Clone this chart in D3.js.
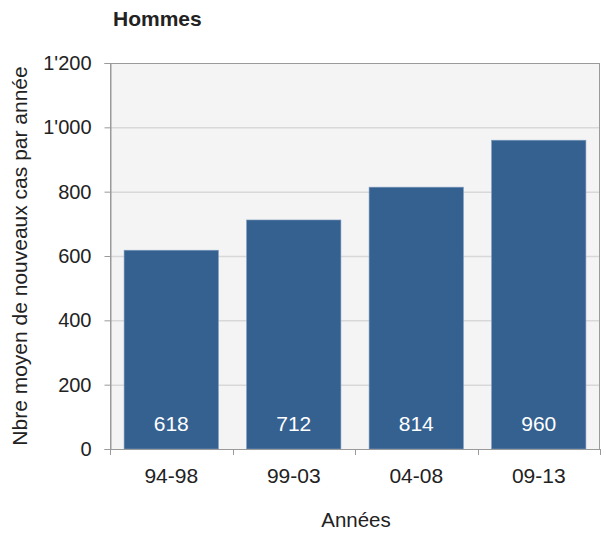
<!DOCTYPE html>
<meta charset="utf-8">
<title>Hommes</title>
<style>
body { margin: 0; background: #fff; }
text { font-family: "Liberation Sans", Arial, sans-serif; fill: #222; }
</style>
<script src="https://d3js.org/d3.v7.min.js"></script>
<body>
<script>
var width = 606, height = 533;
var margin = {top: 63, right: 6, bottom: 84, left: 110};

var periods = ["94-98", "99-03", "04-08", "09-13"];
var cases = [618, 712, 814, 960];
var yTicks = [0, 200, 400, 600, 800, 1000, 1200];

var svg = d3.select("body").append("svg")
    .attr("width", width)
    .attr("height", height);

var x = d3.scaleBand()
    .domain(periods)
    .range([margin.left, width - margin.right])
    .paddingInner(0.23)
    .paddingOuter(0.115);

var y = d3.scaleLinear()
    .domain([0, 1200])
    .range([height - margin.bottom, margin.top]);

var fmt = function(d) { return d3.format(",")(d).replace(",", "'"); };

// plot background
svg.append("rect")
    .attr("x", margin.left)
    .attr("y", margin.top)
    .attr("width", width - margin.right - margin.left)
    .attr("height", y(0) - margin.top)
    .attr("fill", "#f4f4f4");

// grid lines
svg.append("g").selectAll("line")
    .data(yTicks.slice(1, -1))
  .enter().append("line")
    .attr("x1", margin.left)
    .attr("x2", width - margin.right)
    .attr("y1", function(d) { return y(d) + 0.5; })
    .attr("y2", function(d) { return y(d) + 0.5; })
    .attr("stroke", "#d8d8d8")
    .attr("stroke-width", 1.5);

// bars
svg.append("g").selectAll("rect")
    .data(cases)
  .enter().append("rect")
    .attr("x", function(d, i) { return x(periods[i]); })
    .attr("y", function(d) { return y(d); })
    .attr("width", x.bandwidth())
    .attr("height", function(d) { return y(0) - y(d); })
    .attr("fill", "#356191")
    .attr("stroke", "#7f9cc0")
    .attr("stroke-width", 0.6);

// value labels
svg.append("g").selectAll("text")
    .data(cases)
  .enter().append("text")
    .attr("x", function(d, i) { return x(periods[i]) + x.bandwidth() / 2; })
    .attr("y", y(0) - 18)
    .attr("text-anchor", "middle")
    .style("fill", "#fff")
    .style("font-size", "21px")
    .text(function(d) { return d; });

// frame
svg.append("rect")
    .attr("x", margin.left + 0.5)
    .attr("y", margin.top + 0.5)
    .attr("width", width - margin.right - margin.left - 1)
    .attr("height", y(0) - margin.top)
    .attr("fill", "none")
    .attr("stroke", "#9a9a9a")
    .attr("stroke-width", 1);

// y axis
var yAxis = svg.append("g")
    .attr("transform", "translate(" + (margin.left + 0.5) + ",0)")
    .call(d3.axisLeft(y).tickValues(yTicks).tickFormat(fmt).tickSize(6).tickPadding(13));
yAxis.select(".domain").attr("stroke", "#9a9a9a");
yAxis.selectAll(".tick line").attr("stroke", "#9a9a9a");
yAxis.selectAll("text").style("font-size", "20px").style("fill", "#222").attr("font-family", null);

// x axis ticks at band boundaries
var bounds = periods.map(function(p) { return x(p) - x.step() * x.paddingInner() / 2; });
bounds.push(width - margin.right);
svg.append("g").selectAll("line")
    .data(bounds)
  .enter().append("line")
    .attr("x1", function(d) { return Math.round(d) + 0.5; })
    .attr("x2", function(d) { return Math.round(d) + 0.5; })
    .attr("y1", y(0))
    .attr("y2", y(0) + 6)
    .attr("stroke", "#9a9a9a");

svg.append("line")
    .attr("x1", margin.left)
    .attr("x2", width - margin.right)
    .attr("y1", y(0) + 0.5)
    .attr("y2", y(0) + 0.5)
    .attr("stroke", "#9a9a9a");

svg.append("g").selectAll("text")
    .data(periods)
  .enter().append("text")
    .attr("x", function(d) { return x(d) + x.bandwidth() / 2; })
    .attr("y", y(0) + 34)
    .attr("text-anchor", "middle")
    .style("font-size", "21px")
    .text(function(d) { return d; });

// titles
svg.append("text")
    .attr("x", 113)
    .attr("y", 26)
    .style("font-size", "21px")
    .style("font-weight", "bold")
    .text("Hommes");

svg.append("text")
    .attr("x", 356)
    .attr("y", 527)
    .attr("text-anchor", "middle")
    .style("font-size", "20.5px")
    .text("Années");

svg.append("text")
    .attr("transform", "translate(27," + ((margin.top + y(0)) / 2) + ") rotate(-90)")
    .attr("text-anchor", "middle")
    .style("font-size", "21px")
    .text("Nbre moyen de nouveaux cas par année");
</script>
